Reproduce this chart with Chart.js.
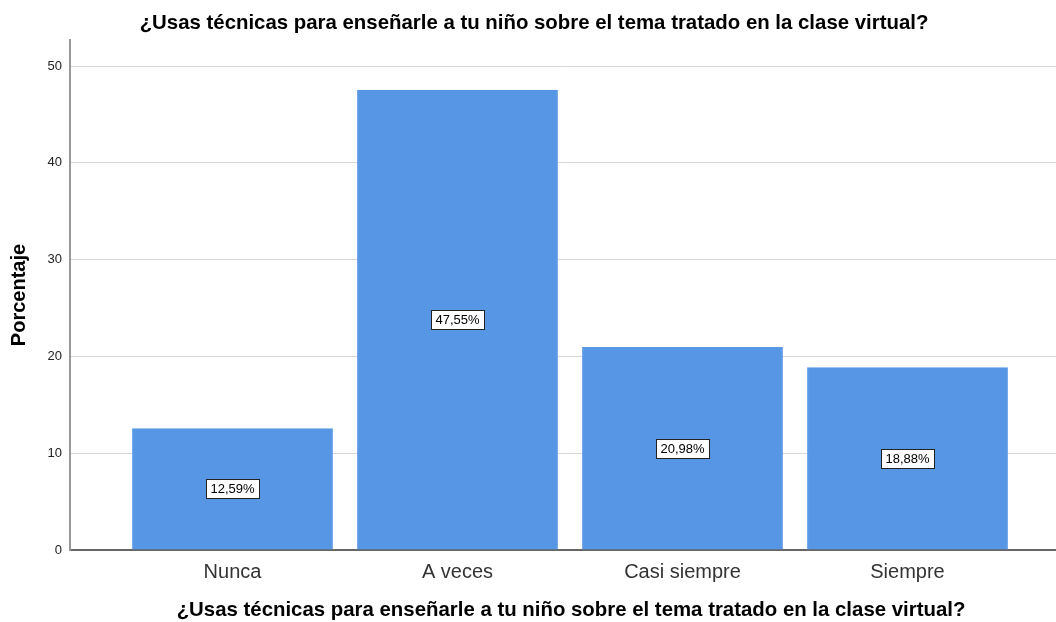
<!DOCTYPE html>
<html>
<head>
<meta charset="utf-8">
<script src="https://cdn.jsdelivr.net/npm/chart.js@4"></script>
<style>
  html, body { margin: 0; padding: 0; background: #fff; }
  #wrap { width: 1056px; height: 622px; }
</style>
</head>
<body>
<div id="wrap"><canvas id="grafica"></canvas></div>
<script>
// datos
const categorias = ['Nunca', 'A veces', 'Casi siempre', 'Siempre'];
const porcentajes = [12.59, 47.55, 20.98, 18.88];
const ticksY = [0, 10, 20, 30, 40, 50];
const titulo = '¿Usas técnicas para enseñarle a tu niño sobre el tema tratado en la clase virtual?';

const fuente = '"Liberation Sans", Arial, sans-serif';

// etiquetas con caja blanca en el centro de cada barra
const etiquetasBarras = {
  id: 'etiquetasBarras',
  afterDatasetsDraw(chart) {
    const ctx = chart.ctx;
    const meta = chart.getDatasetMeta(0);
    ctx.save();
    ctx.font = '13px ' + fuente;
    ctx.textAlign = 'center';
    ctx.textBaseline = 'middle';
    meta.data.forEach((barra, i) => {
      const texto = porcentajes[i].toFixed(2).replace('.', ',') + '%';
      const cx = barra.x;
      const cy = (barra.y + barra.base) / 2;
      const w = Math.round(ctx.measureText(texto).width + 9);
      const h = 19;
      const x0 = Math.round(cx - w / 2) + 0.5;
      const y0 = Math.round(cy - h / 2) + 0.5;
      ctx.fillStyle = '#fff';
      ctx.fillRect(x0, y0, w, h);
      ctx.strokeStyle = '#222';
      ctx.lineWidth = 1;
      ctx.strokeRect(x0, y0, w, h);
      ctx.fillStyle = '#000';
      ctx.fillText(texto, cx, cy + 1);
    });
    ctx.restore();
  }
};

// titulo arriba y titulo del eje x abajo
const titulos = {
  id: 'titulos',
  afterDraw(chart) {
    const ctx = chart.ctx;
    ctx.save();
    ctx.font = 'bold 20.4px ' + fuente;
    ctx.fillStyle = '#000';
    ctx.textAlign = 'center';
    ctx.textBaseline = 'middle';
    ctx.fillText(titulo, 534, 23);
    ctx.fillText(titulo, 571, 610);
    ctx.restore();
  }
};

const ctx = document.getElementById('grafica').getContext('2d');
const grafica = new Chart(ctx, {
  type: 'bar',
  data: {
    datasets: [
      {
        data: porcentajes.map((v, i) => ({ x: i + 1, y: v })),
        backgroundColor: '#5796E5',
        borderColor: '#6BA3EA',
        borderWidth: { left: 1, right: 1, top: 0, bottom: 0 },
        barPercentage: 0.893,
        categoryPercentage: 1
      }
    ]
  },
  options: {
    responsive: true,
    maintainAspectRatio: false,
    animation: false,
    layout: { padding: { top: 40, left: 0, right: 0, bottom: 0 } },
    plugins: {
      legend: { display: false },
      tooltip: { enabled: false }
    },
    scales: {
      x: {
        type: 'linear',
        offset: false,
        min: 0.2778,
        max: 4.66,
        afterBuildTicks: (scale) => {
          scale.ticks = categorias.map((c, i) => ({ value: i + 1 }));
        },
        afterFit: (scale) => { scale.height = 72; },
        ticks: {
          callback: (v) => categorias[v - 1],
          font: { family: fuente, size: 20 },
          color: '#333',
          padding: 10,
          maxRotation: 0,
          autoSkip: false
        },
        grid: { display: false, drawTicks: false },
        border: { color: '#666', width: 2 }
      },
      y: {
        min: 0,
        max: 52.7,
        afterBuildTicks: (scale) => {
          scale.ticks = ticksY.map((v) => ({ value: v }));
        },
        afterFit: (scale) => { scale.width = 70; },
        ticks: {
          font: { family: fuente, size: 13 },
          color: '#222',
          padding: 8
        },
        grid: { color: '#d6d6d6', lineWidth: 1, drawTicks: false },
        border: { color: '#999', width: 2 },
        title: {
          display: true,
          text: 'Porcentaje',
          font: { family: fuente, size: 20, weight: 'bold' },
          color: '#000',
          padding: { top: 7, bottom: 0 }
        }
      }
    }
  },
  plugins: [etiquetasBarras, titulos]
});
</script>
</body>
</html>
